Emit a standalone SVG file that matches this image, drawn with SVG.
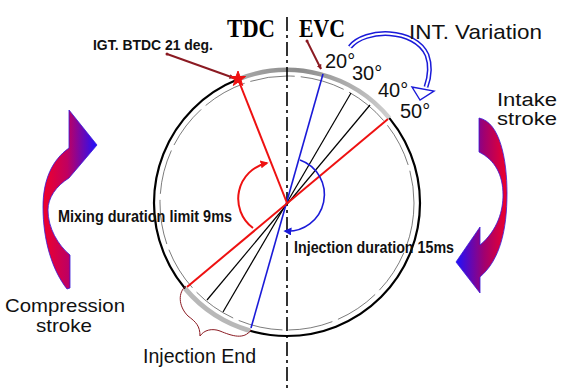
<svg xmlns="http://www.w3.org/2000/svg" width="572" height="391" viewBox="0 0 572 391">
<style>
.sans{font-family:"Liberation Sans",Arial,sans-serif;fill:#111}
.bold{font-weight:bold}
.serif{font-family:"Liberation Serif","Times New Roman",serif;font-weight:bold;fill:#000}
.lead{stroke:#8b1a22;stroke-width:2;fill:none}
</style>
<defs>
<marker id="ahDark" viewBox="0 0 10 10" refX="9" refY="5" markerWidth="5" markerHeight="5" orient="auto" markerUnits="userSpaceOnUse"><path d="M0,0 L10,5 L0,10 Z" fill="#8b1a22"/></marker>
<marker id="ahRed" viewBox="0 0 10 10" refX="8" refY="5" markerWidth="8" markerHeight="8" orient="auto" markerUnits="userSpaceOnUse"><path d="M0,0 L10,5 L0,10 Z" fill="#ee1111"/></marker>
<marker id="ahBlue" viewBox="0 0 10 10" refX="8" refY="5" markerWidth="8" markerHeight="8" orient="auto" markerUnits="userSpaceOnUse"><path d="M0,0 L10,5 L0,10 Z" fill="#1a1ad8"/></marker>
<linearGradient id="gLeft" gradientUnits="userSpaceOnUse" x1="43" y1="0" x2="97" y2="0"><stop offset="0" stop-color="#f0002a"/><stop offset="0.45" stop-color="#c00060"/><stop offset="1" stop-color="#1e10ff"/></linearGradient>
<linearGradient id="gRight" gradientUnits="userSpaceOnUse" x1="456" y1="0" x2="507" y2="0"><stop offset="0" stop-color="#1e10ff"/><stop offset="0.55" stop-color="#a00070"/><stop offset="1" stop-color="#f0002a"/></linearGradient>
<linearGradient id="gArc" gradientUnits="userSpaceOnUse" x1="238" y1="0" x2="390" y2="0"><stop offset="0" stop-color="#a8a8a8"/><stop offset="0.4" stop-color="#8c8c8c"/><stop offset="0.75" stop-color="#b0b0b0"/><stop offset="1" stop-color="#d0d0d0"/></linearGradient>
</defs>

<g id="stroke-arrows">
<path id="compression-arrow" d="M69,110 L97,145 L69,178 C56,186 48,198 48,210 C48,228 58,245 70,255 L70,288 L67,289 C52,270 43,240 43,207 C43,180 52,160 69,148 Z" fill="url(#gLeft)" stroke="#3a1ad8" stroke-width="0.8"/>
<path id="intake-arrow" d="M479,118 C500,122 507,160 507,193 C507,230 500,260 480,277 L480,293 L456,262 L480,227 L480,245 C498,230 503,210 503,195 C503,175 495,160 479,152 Z" fill="url(#gRight)" stroke="#3a1ad8" stroke-width="0.8"/>
</g>

<g id="crank-circle">
<circle cx="287" cy="203" r="127" fill="none" stroke="#444" stroke-width="0.7" stroke-dasharray="45 6"/>
<circle cx="287" cy="203" r="133" fill="none" stroke="#000" stroke-width="2.2"/>
<path d="M238,79.3 A133,133 0 0 1 389.3,118" fill="none" stroke="url(#gArc)" stroke-width="4.5"/>
<path d="M185.1,288.5 A133,133 0 0 0 250.3,330.8" fill="none" stroke="#b8b8b8" stroke-width="5"/>
</g>

<g id="axis">
<line x1="287" y1="17" x2="287" y2="391" stroke="#000" stroke-width="1.6" stroke-dasharray="14 4 3 4"/>
</g>

<g id="connectors">
<line x1="351" y1="93" x2="223" y2="312" stroke="#000" stroke-width="1.2"/>
<line x1="370" y1="105" x2="207" y2="300" stroke="#000" stroke-width="1.2"/>
<line x1="323" y1="74" x2="251" y2="328" stroke="#1a1ad8" stroke-width="1.6"/>
<line x1="388" y1="119" x2="187" y2="287" stroke="#ee1111" stroke-width="2"/>
<line x1="238" y1="79" x2="287" y2="203" stroke="#ee1111" stroke-width="2"/>
<path d="M253,228 A36.5,36.5 0 0 1 267,163" fill="none" stroke="#ee1111" stroke-width="2" marker-end="url(#ahRed)"/>
<path d="M300,160 A36.6,36.6 0 0 1 285,231" fill="none" stroke="#1a1ad8" stroke-width="1.6" marker-end="url(#ahBlue)"/>
<line class="lead" x1="167" y1="54" x2="234" y2="78" marker-end="url(#ahDark)"/>
<circle cx="167" cy="54" r="1.5" fill="#8b1a22"/>
<line class="lead" x1="307" y1="41" x2="321" y2="69" marker-end="url(#ahDark)"/>
<circle cx="307" cy="41" r="1.5" fill="#8b1a22"/>
<path d="M186,286 C178,292 178,306 188,316 C196,322 200,326 200,336 C204,330 212,328 220,331 C232,336 244,340 251,330" fill="none" stroke="#8b1a22" stroke-width="1"/>
<g id="int-variation-arrow">
<path d="M350,47 C365,28 415,28 427,55 C431,66 430,76 426,87" fill="none" stroke="#1a1ad8" stroke-width="5"/>
<path d="M350,47 C365,28 415,28 427,55 C431,66 430,76 426,87" fill="none" stroke="#fff" stroke-width="2"/>
<path d="M420,100 L412,87 L434,91 Z" fill="#fff" stroke="#1a1ad8" stroke-width="1.4"/>
</g>
</g>

<g id="ignition-star">
<polygon points="238,71 240,76.5 245.6,76.5 241,80 242.7,85.5 238,82.2 233.3,85.5 235,80 230.4,76.5 236,76.5" fill="#ee1111" stroke="#ee1111" stroke-width="1"/>
</g>

<g id="labels">
<text class="serif" x="227" y="37" font-size="26" textLength="48" lengthAdjust="spacingAndGlyphs">TDC</text>
<text class="serif" x="299" y="37" font-size="26" textLength="46" lengthAdjust="spacingAndGlyphs">EVC</text>
<text class="sans bold" x="93" y="50" font-size="14" textLength="120" lengthAdjust="spacingAndGlyphs">IGT. BTDC 21 deg.</text>
<text class="sans" x="409" y="39" font-size="21" textLength="133" lengthAdjust="spacingAndGlyphs">INT. Variation</text>
<text class="sans" x="325" y="68" font-size="20">20°</text>
<text class="sans" x="352" y="80" font-size="20">30°</text>
<text class="sans" x="378" y="97" font-size="20">40°</text>
<text class="sans" x="400" y="118" font-size="20">50°</text>
<text class="sans" x="497" y="106" font-size="18" textLength="60" lengthAdjust="spacingAndGlyphs">Intake</text>
<text class="sans" x="497" y="125" font-size="18" textLength="60" lengthAdjust="spacingAndGlyphs">stroke</text>
<text class="sans" x="5" y="312" font-size="18.5" textLength="120" lengthAdjust="spacingAndGlyphs">Compression</text>
<text class="sans" x="36" y="332" font-size="18.5" textLength="56" lengthAdjust="spacingAndGlyphs">stroke</text>
<text class="sans" x="143" y="363" font-size="20" textLength="113" lengthAdjust="spacingAndGlyphs">Injection End</text>
<text class="sans bold" x="58" y="222" font-size="16" textLength="174" lengthAdjust="spacingAndGlyphs">Mixing duration limit 9ms</text>
<text class="sans bold" x="294" y="253" font-size="16" textLength="160" lengthAdjust="spacingAndGlyphs">Injection duration 15ms</text>
</g>
</svg>
